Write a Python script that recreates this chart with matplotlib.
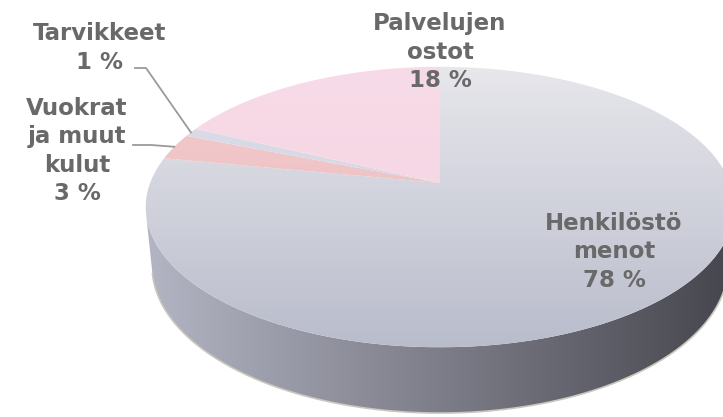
import numpy as np
import matplotlib
matplotlib.use("Agg")
import matplotlib.pyplot as plt
from matplotlib.patches import Polygon
from matplotlib.colors import LinearSegmentedColormap

# data (clockwise from 12 o'clock)
labels = ["Henkilöstö\nmenot\n78 %", "Vuokrat\nja muut\nkulut\n3 %", "Tarvikkeet\n1 %", "Palvelujen\nostot\n18 %"]
shares = [78, 3, 1, 18]
top_colors = [("#e7e7ec", "#b9bccb"), ("#f4cccf", "#e9b8b8"), ("#dcdde8", "#d0d2de"), ("#f8dbe8", "#f4d2e0")]

# view (pixel space)
W, H = 723, 417
cx, cy = 440, 183
elev = np.radians(28)
D, F, depth = 5.15, 1493, 0.232


def project(x, y, z=0.0):
    yc = y * np.sin(elev) + z * np.cos(elev)
    zc = D + y * np.cos(elev) - z * np.sin(elev)
    return cx + F * x / zc, cy - F * yc / zc


def rim(t0, t1, z=0.0, n=200):
    t = np.radians(np.linspace(t0, t1, n))
    u, v = project(np.cos(t), np.sin(t), z)
    return np.column_stack([u, v])


def gradient_fill(ax, verts, c0, c1, horizontal=False):
    poly = Polygon(verts, closed=True, facecolor="none", edgecolor="none")
    ax.add_patch(poly)
    x0, y0 = verts.min(axis=0)
    x1, y1 = verts.max(axis=0)
    cmap = LinearSegmentedColormap.from_list("g", [c0, c1])
    g = np.linspace(0, 1, 256)
    img = g[None, :] if horizontal else g[:, None]
    im = ax.imshow(img, cmap=cmap, extent=(x0, x1, y1, y0), aspect="auto",
                   interpolation="bicubic", zorder=poly.get_zorder())
    im.set_clip_path(poly)


fig = plt.figure(figsize=(W / 100, H / 100), dpi=100)
ax = fig.add_axes([0, 0, 1, 1])
ax.set_xlim(0, W)
ax.set_ylim(H, 0)
ax.axis("off")

# side wall: visible where the rim faces the camera
t_edge = np.degrees(np.arcsin(1 / (D * np.cos(elev))))
ta, tb = 180 + t_edge, 360 - t_edge
side = np.vstack([rim(ta, tb), rim(tb, ta, -depth)])
gradient_fill(ax, side, "#b4b5c4", "#45464d", horizontal=True)
bot = rim(ta, tb, -depth)
ax.plot(bot[:, 0], bot[:, 1], color="#c9c6bc", lw=1.2, zorder=1)

# top face, gradient over the whole ellipse height
full = rim(0, 360)
ytop, ybot = full[:, 1].min(), full[:, 1].max()
start = 90.0
for share, (c0, c1) in zip(shares, top_colors):
    span = 360 * share / 100
    t0, t1 = start - span, start
    apex = np.array([project(0, 0)])
    verts = np.vstack([apex, rim(t0, t1)])
    poly = Polygon(verts, closed=True, facecolor="none", edgecolor="none", zorder=2)
    ax.add_patch(poly)
    cmap = LinearSegmentedColormap.from_list("g", [c0, c1])
    im = ax.imshow(np.linspace(0, 1, 256)[:, None], cmap=cmap,
                   extent=(0, W, ybot, ytop), aspect="auto",
                   interpolation="bicubic", zorder=2)
    im.set_clip_path(poly)
    start = t0

# labels
txt = dict(ha="center", va="center", fontsize=16.5, fontweight="bold",
           color="#696969", family="DejaVu Sans", linespacing=1.3, zorder=5)
ax.text(614, 252, labels[0], **txt)
ax.text(77, 151, labels[1], **txt)
ax.text(100, 48, labels[2], **txt)
ax.text(440, 52, labels[3], **txt)

# leader lines to slice midpoints
mid_tarv = 90 + 360 * shares[3] / 100 + 360 * shares[2] / 200
mid_vuok = 90 + 360 * (shares[3] + shares[2]) / 100 + 360 * shares[1] / 200
for (x0, y0, x1), mid in [((135, 68, 146), mid_tarv), ((133, 145, 151), mid_vuok)]:
    u, v = project(np.cos(np.radians(mid)), np.sin(np.radians(mid)))
    ax.plot([x0, x1, u], [y0, y0, v], color="#9a9a9a", lw=1.3, zorder=4)

fig.savefig("out.png", dpi=100)
